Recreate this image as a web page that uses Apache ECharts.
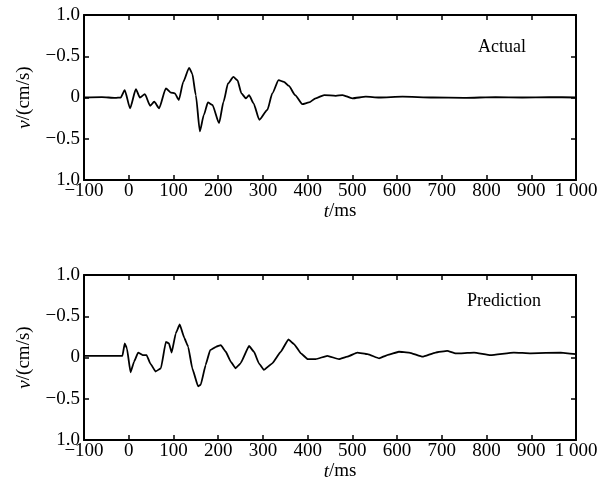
<!DOCTYPE html>
<html><head><meta charset="utf-8">
<script src="https://cdn.jsdelivr.net/npm/echarts@6/dist/echarts.min.js"></script>
<style>html,body{margin:0;padding:0;background:#fff}#c{width:601px;height:486px}</style>
</head><body><div id="c"></div>
<script>
const actualT = [-100,-60,-30,-18,-9,3,16,25,36,48,57,68,83,94,103,112,122,135,142,150,159,168,177,187,202,212,222,234,243,252,262,269,279,292,310,321,335,347,358,372,388,403,418,437,463,478,500,530,560,612,680,750,820,880,940,1000];
const actualV = [0,0.005,-0.005,0,0.09,-0.13,0.10,0.0,0.04,-0.10,-0.05,-0.13,0.11,0.06,0.05,-0.03,0.19,0.36,0.29,0.03,-0.41,-0.21,-0.06,-0.09,-0.31,-0.05,0.17,0.25,0.21,0.05,-0.01,0.03,-0.07,-0.27,-0.15,0.05,0.21,0.19,0.14,0.03,-0.08,-0.06,-0.01,0.03,0.02,0.03,-0.01,0.01,0.0,0.01,0.0,-0.005,0.005,0.0,0.005,0.0];
const predT = [-100,-14,-9,-4,4,12,21,31,40,48,60,72,83,90,96,105,114,124,133,142,155,161,172,182,195,206,217,228,239,250,269,280,291,302,321,340,357,370,385,400,418,444,470,489,511,534,560,578,604,627,657,686,712,731,742,772,809,861,899,966,1000];
const predV = [0.02,0.02,0.17,0.11,-0.18,-0.05,0.06,0.03,0.03,-0.07,-0.17,-0.13,0.19,0.17,0.06,0.29,0.40,0.24,0.13,-0.13,-0.35,-0.33,-0.09,0.09,0.13,0.15,0.07,-0.05,-0.13,-0.07,0.14,0.07,-0.07,-0.15,-0.07,0.07,0.22,0.16,0.05,-0.02,-0.02,0.02,-0.02,0.01,0.06,0.04,-0.01,0.03,0.07,0.06,0.01,0.06,0.08,0.05,0.05,0.06,0.03,0.06,0.05,0.06,0.04];
const yTickValues = [-1, -0.5, 0, 0.5, 1];
const yTickLabels = ['1.0', '\u22120.5', '0', '\u22120.5', '1.0'];
const panelTitles = ['Actual', 'Prediction'];

const FONT = 'Liberation Serif';
const FS = 19;
const chart = echarts.init(document.getElementById('c'), null, {renderer: 'canvas'});
const grids = [
  {left: 84, top: 15, width: 492, height: 165},
  {left: 84, top: 275, width: 492, height: 165}
];
const axisLine = {onZero: false, lineStyle: {color: '#000', width: 2}};
const tickIn = {inside: true, length: 5, lineStyle: {color: '#000', width: 1.5}};
const xFmt = v => v < 0 ? '\u2212' + Math.abs(v) : (v >= 1000 ? '1 000' : String(v));
const yFmt = v => { const i = yTickValues.findIndex(t => Math.abs(t - v) < 1e-9); return i >= 0 ? yTickLabels[i] : ''; };

const xAxis = [], yAxis = [], series = [], title = [];
[0, 1].forEach(g => {
  xAxis.push({type: 'value', gridIndex: g, min: -100, max: 1000, interval: 100, position: 'bottom',
    axisLine, axisTick: tickIn, splitLine: {show: false},
    axisLabel: {formatter: xFmt, color: '#000', fontFamily: FONT, fontSize: FS, margin: 2},
    name: '{i|t}/ms', nameLocation: 'middle', nameGap: 22,
    nameTextStyle: {color: '#000', fontFamily: FONT, fontSize: FS, padding: [0, 0, 0, 20],
      rich: {i: {fontStyle: 'italic', fontFamily: FONT, fontSize: FS, color: '#000'}}}});
  xAxis.push({type: 'value', gridIndex: g, min: -100, max: 1000, interval: 100, position: 'top',
    axisLine, axisTick: tickIn, axisLabel: {show: false}, splitLine: {show: false}});
  yAxis.push({type: 'value', gridIndex: g, min: -1, max: 1, interval: 0.5, position: 'left',
    axisLine, axisTick: tickIn, splitLine: {show: false},
    axisLabel: {formatter: yFmt, color: '#000', fontFamily: FONT, fontSize: FS, margin: 4},
    name: '{i|v}/(cm/s)', nameLocation: 'middle', nameRotate: 90, nameGap: 50,
    nameTextStyle: {color: '#000', fontFamily: FONT, fontSize: FS,
      rich: {i: {fontStyle: 'italic', fontFamily: FONT, fontSize: FS, color: '#000'}}}});
  yAxis.push({type: 'value', gridIndex: g, min: -1, max: 1, interval: 0.5, position: 'right',
    axisLine, axisTick: tickIn, axisLabel: {show: false}, splitLine: {show: false}});
});
const sets = [[actualT, actualV, 0.2], [predT, predV, 0.1]];
sets.forEach(([T, V, sm], g) => {
  series.push({type: 'line', xAxisIndex: g * 2, yAxisIndex: g * 2, data: T.map((t, i) => [t, V[i]]),
    showSymbol: false, smooth: sm, smoothMonotone: 'x', lineStyle: {color: '#000', width: 1.8}, animation: false});
});
title.push({text: panelTitles[0], left: 473, top: 33, textStyle: {fontFamily: FONT, fontSize: 18, fontWeight: 'normal', color: '#000'}});
title.push({text: panelTitles[1], left: 462, top: 287, textStyle: {fontFamily: FONT, fontSize: 18, fontWeight: 'normal', color: '#000'}});

chart.setOption({animation: false, backgroundColor: '#fff', grid: grids, xAxis, yAxis, series, title});
</script></body></html>
